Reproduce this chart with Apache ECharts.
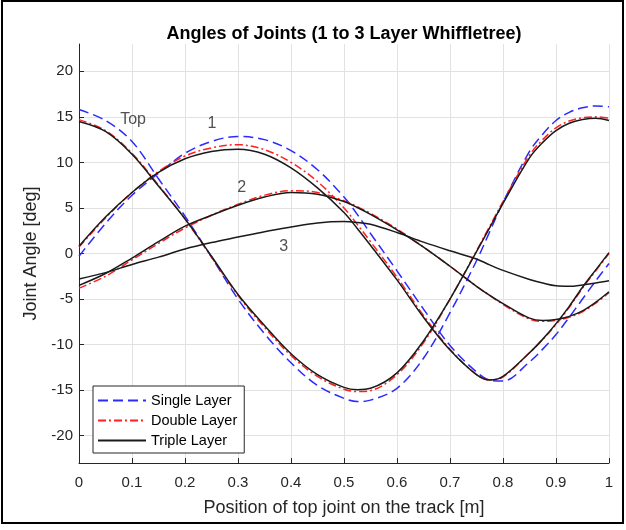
<!DOCTYPE html>
<html>
<head>
<meta charset="utf-8">
<script src="https://cdn.jsdelivr.net/npm/echarts@6/dist/echarts.min.js"></script>
<style>
html,body{margin:0;padding:0;background:#fff;}
#c{width:626px;height:530px;}
</style>
</head>
<body>
<div id="c"></div>
<script>
// ---- data ----
const xPositions = [0, 0.05, 0.1, 0.15, 0.2, 0.25, 0.3, 0.35, 0.4, 0.45, 0.5, 0.525,
                    0.55, 0.6, 0.65, 0.7, 0.75, 0.775, 0.8, 0.85, 0.875, 0.9, 0.925,
                    0.95, 0.975, 1.0];

// Top joint
const topSingle = [15.8, 14.6, 12.3, 8.2, 4.1, -0.4, -5.0, -8.8, -12.0, -14.5, -15.9, -16.25,
                   -16.1, -14.8, -11.5, -6.5, -0.8, 2.4, 5.6, 11.2, 13.1, 14.6, 15.5,
                   16.0, 16.2, 16.1];
const topDouble = [14.7, 13.5, 11.0, 7.5, 3.8, -0.4, -4.6, -8.1, -11.2, -13.5, -14.9, -15.15,
                   -15.05, -13.3, -9.8, -5.0, 0.3, 3.0, 5.7, 10.8, 12.5, 13.8, 14.55,
                   14.9, 15.0, 14.85];
const topTriple = [14.5, 13.4, 10.9, 7.4, 3.8, -0.3, -4.5, -7.9, -11.0, -13.3, -14.7, -14.95,
                   -14.8, -13.1, -9.6, -5.0, 0.2, 2.85, 5.5, 10.5, 12.2, 13.5, 14.3,
                   14.7, 14.85, 14.6];

// Joint 1
const joint1Single = [-0.3, 3.3, 6.4, 8.8, 11.0, 12.3, 12.85, 12.5, 11.3, 9.2, 6.2, 4.3,
                      2.2, -1.9, -6.1, -10.1, -13.0, -13.9, -14.0, -11.9, -10.5, -8.9, -7.0,
                      -5.0, -3.0, -1.1];
const joint1Double = [0.7, 3.9, 6.7, 9.0, 10.7, 11.6, 11.95, 11.4, 10.0, 7.9, 5.0, 3.2,
                      1.3, -2.6, -6.8, -10.5, -13.3, -13.85, -13.55, -10.9, -9.45, -7.8, -5.9,
                      -3.8, -1.9, 0.0];
const joint1Triple = [0.8, 4.0, 6.7, 8.9, 10.4, 11.2, 11.45, 10.9, 9.4, 7.2, 4.5, 2.75,
                      0.9, -2.9, -7.0, -10.6, -13.3, -13.9, -13.5, -10.9, -9.4, -7.7, -5.8,
                      -3.7, -1.8, 0.1];

// Joint 2
const joint2Double = [-3.8, -2.5, -0.7, 1.1, 2.8, 4.2, 5.4, 6.4, 6.9, 6.7, 5.8, 5.15,
                      4.4, 2.7, 0.7, -1.4, -3.6, -4.6, -5.6, -7.2, -7.45, -7.35, -7.0,
                      -6.4, -5.45, -4.3];
const joint2Triple = [-3.5, -2.2, -0.5, 1.3, 3.0, 4.2, 5.3, 6.2, 6.7, 6.5, 5.7, 5.05,
                      4.3, 2.6, 0.7, -1.4, -3.6, -4.6, -5.5, -7.1, -7.35, -7.25, -6.9,
                      -6.3, -5.35, -4.2];

// Joint 3
const joint3Triple = [-2.8, -2.1, -1.2, -0.4, 0.5, 1.2, 1.8, 2.4, 2.9, 3.35, 3.5, 3.4,
                      3.2, 2.3, 1.25, 0.3, -0.6, -1.25, -1.85, -2.85, -3.25, -3.55, -3.6,
                      -3.45, -3.25, -3.0];

// Curve annotations
const annotationLabels = ['Top', '1', '2', '3'];
const annotationX = [0.102, 0.251, 0.307, 0.386];
const annotationY = [14.7, 14.3, 7.2, 0.76];

// Axes
const yTickValues = [-20, -15, -10, -5, 0, 5, 10, 15, 20];
const legendNames = ['Single Layer', 'Double Layer', 'Triple Layer'];

// ---- chart ----
const FONT = '"Liberation Sans", Arial, Helvetica, sans-serif';
const AX = '#262626';
const styles = {
  'Single Layer': {color: '#2b2bff', type: [10, 5]},
  'Double Layer': {color: '#ff2020', type: [8, 3, 2, 3]},
  'Triple Layer': {color: '#1a1a1a', type: 'solid'}
};
const curves = [
  ['Single Layer', topSingle], ['Single Layer', joint1Single],
  ['Double Layer', topDouble], ['Double Layer', joint1Double], ['Double Layer', joint2Double],
  ['Triple Layer', topTriple], ['Triple Layer', joint1Triple], ['Triple Layer', joint2Triple],
  ['Triple Layer', joint3Triple]
];
const pairs = ys => xPositions.map((x, i) => [x, ys[i]]);

const series = curves.map(([name, ys]) => ({
  type: 'line',
  name: name,
  data: pairs(ys),
  symbol: 'none',
  smooth: 0.35,
  silent: true,
  lineStyle: {color: styles[name].color, width: 1.5, type: styles[name].type},
  itemStyle: {color: styles[name].color}
}));

series.push({
  type: 'scatter',
  name: 'annotations',
  data: annotationX.map((x, i) => [x, annotationY[i]]),
  symbolSize: 1,
  silent: true,
  itemStyle: {color: 'rgba(0,0,0,0)'},
  label: {
    show: true,
    position: 'inside',
    formatter: p => annotationLabels[p.dataIndex],
    fontSize: 16,
    fontFamily: FONT,
    color: AX
  },
  z: 5
});

const chart = echarts.init(document.getElementById('c'));
chart.setOption({
  animation: false,
  backgroundColor: '#fff',
  title: {
    text: 'Angles of Joints (1 to 3 Layer Whiffletree)',
    left: 344,
    top: 25,
    textAlign: 'center',
    padding: 0,
    textStyle: {fontSize: 18, fontWeight: 'bold', color: '#000', fontFamily: FONT}
  },
  grid: {left: 79, top: 44, width: 530, height: 419, containLabel: false},
  legend: {
    orient: 'vertical',
    left: 93,
    top: 386,
    itemWidth: 48,
    itemHeight: 14,
    itemGap: 5,
    padding: [7, 7, 5, 4],
    borderColor: AX,
    borderWidth: 1,
    backgroundColor: '#fff',
    selectedMode: false,
    itemStyle: {color: 'rgba(0,0,0,0)', borderColor: 'rgba(0,0,0,0)', borderWidth: 0},
    textStyle: {fontSize: 14.5, color: '#000', fontFamily: FONT},
    data: legendNames
  },
  xAxis: {
    type: 'value',
    min: 0,
    max: 1,
    interval: 0.1,
    name: 'Position of top joint on the track [m]',
    nameLocation: 'middle',
    nameGap: 36,
    nameTextStyle: {fontSize: 18, color: AX, fontFamily: FONT},
    axisLine: {show: true, onZero: false, lineStyle: {color: AX, width: 1}},
    axisTick: {show: true, inside: true, length: 5, lineStyle: {color: AX}},
    axisLabel: {fontSize: 15, color: AX, margin: 12, fontFamily: FONT,
                formatter: v => String(+v.toFixed(1))},
    splitLine: {show: true, lineStyle: {color: '#e2e2e2', width: 1}}
  },
  yAxis: {
    type: 'value',
    min: -23,
    max: 23,
    name: 'Joint Angle [deg]',
    nameLocation: 'middle',
    nameGap: 37,
    nameTextStyle: {fontSize: 18, color: AX, fontFamily: FONT},
    axisLine: {show: true, onZero: false, lineStyle: {color: AX, width: 1}},
    axisTick: {show: true, inside: true, length: 5, lineStyle: {color: AX}, customValues: yTickValues},
    axisLabel: {fontSize: 15, color: AX, margin: 6, fontFamily: FONT, customValues: yTickValues},
    splitLine: {show: true, lineStyle: {color: '#e2e2e2', width: 1}}
  },
  graphic: [{
    type: 'rect',
    shape: {x: 2, y: 1, width: 621, height: 522},
    style: {fill: 'none', stroke: '#000', lineWidth: 2},
    silent: true,
    z: 100
  }],
  series: series
});
</script>
</body>
</html>
